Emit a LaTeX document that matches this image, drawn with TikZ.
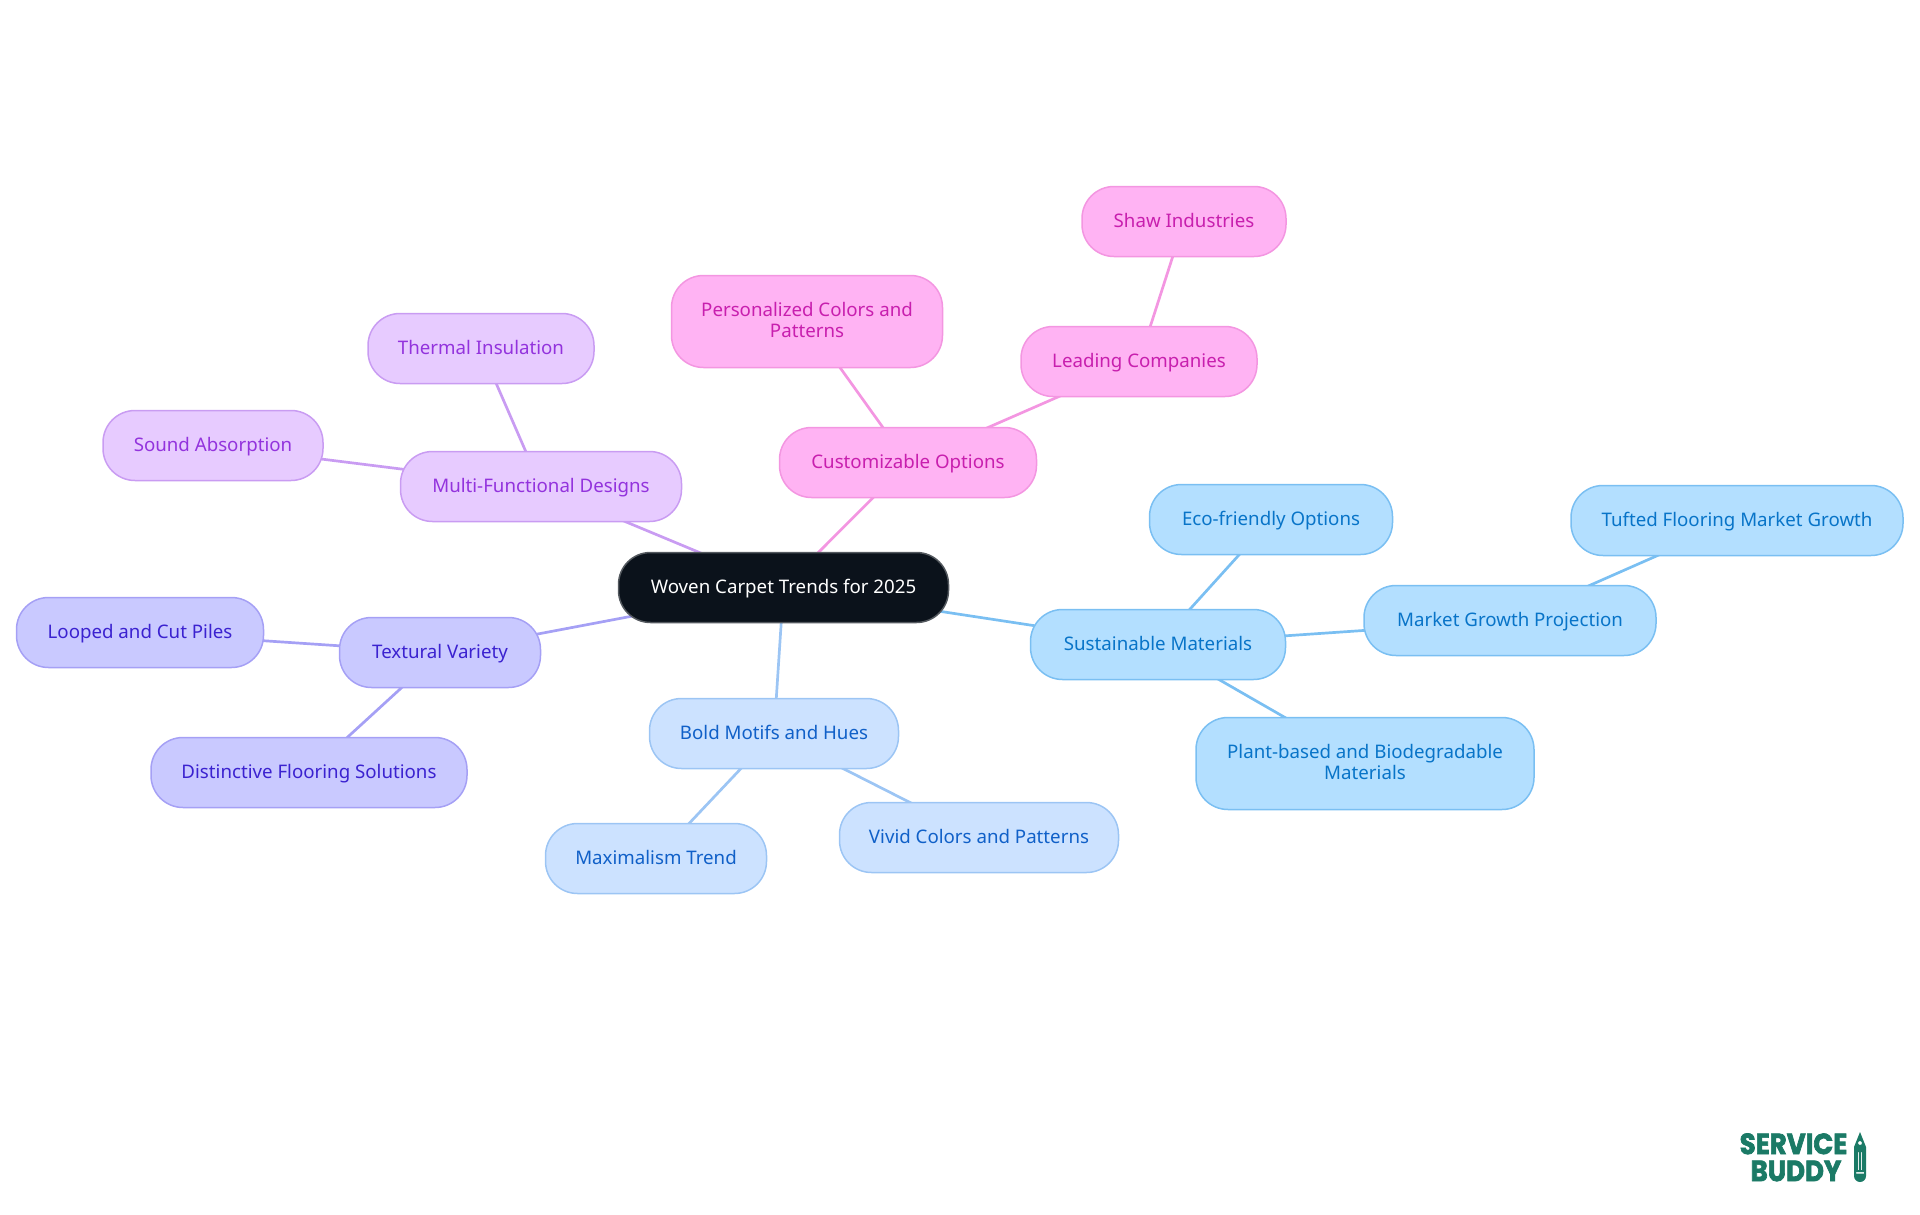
\documentclass[tikz,border=0pt]{standalone}
\usepackage{fontspec}
\setmainfont{Noto Sans}
\newfontfamily\logofont[BoldFeatures={FakeBold=2.5}]{Poppins}
\usetikzlibrary{positioning,backgrounds}

\definecolor{rootfill}{HTML}{0B121B}
\definecolor{pinkfill}{HTML}{FFB3F3}
\definecolor{pinkdraw}{HTML}{F396E1}
\definecolor{pinktext}{HTML}{C81FAE}
\definecolor{violetfill}{HTML}{E7CBFF}
\definecolor{violetdraw}{HTML}{C99CF2}
\definecolor{violettext}{HTML}{9333DD}
\definecolor{indigofill}{HTML}{C9C9FF}
\definecolor{indigodraw}{HTML}{A5A0F5}
\definecolor{indigotext}{HTML}{3B22D0}
\definecolor{bluefill}{HTML}{CCE2FF}
\definecolor{bluedraw}{HTML}{9CC5F4}
\definecolor{bluetext}{HTML}{1060C8}
\definecolor{skyfill}{HTML}{B3DFFF}
\definecolor{skydraw}{HTML}{7ABFF2}
\definecolor{skytext}{HTML}{0874C8}
\definecolor{logogreen}{HTML}{1B7A66}

\begin{document}
\begin{tikzpicture}[x=1pt,y=1pt,on grid,font=\fontsize{18.7}{21}\selectfont]

  \tikzstyle{box}=[rounded corners=32pt,line width=1.5pt,minimum height=70pt,inner sep=0pt,align=center,text height=15pt,text depth=3pt]
  \tikzstyle{twolines}=[minimum height=92pt,text height=36pt,text depth=5pt]
  \tikzstyle{rootbox}=[box,fill=rootfill,draw=rootfill!70!white,text=white]
  \tikzstyle{pinkbox}=[box,fill=pinkfill,draw=pinkdraw,text=pinktext]
  \tikzstyle{violetbox}=[box,fill=violetfill,draw=violetdraw,text=violettext]
  \tikzstyle{indigobox}=[box,fill=indigofill,draw=indigodraw,text=indigotext]
  \tikzstyle{bluebox}=[box,fill=bluefill,draw=bluedraw,text=bluetext]
  \tikzstyle{skybox}=[box,fill=skyfill,draw=skydraw,text=skytext]
  \tikzstyle{link}=[line width=2.7pt]
  \tikzstyle{logotext}=[text=logogreen,inner sep=0pt,yscale=1.12,transform shape,text height=18pt,text depth=0pt,font=\logofont\bfseries\fontsize{26}{26}\selectfont]

  \useasboundingbox (0,0) rectangle (1920,-1215);

  \node[rootbox,minimum width=330pt]    (root) at (783.5,-587.5) {Woven Carpet Trends for 2025};

  \node[pinkbox,minimum width=257pt]    (cust)  [above right=125pt and 124.5pt of root] {Customizable Options};
  \node[pinkbox,twolines,minimum width=271pt] (pers) [above left=141pt and 101pt of cust] {Personalized Colors and\\Patterns};
  \node[pinkbox,minimum width=236pt]    (lead)  [above right=101pt and 231pt of cust] {Leading Companies};
  \node[pinkbox,minimum width=204pt]    (shaw)  [above right=140pt and 45pt of lead] {Shaw Industries};

  \node[violetbox,minimum width=281pt]  (multi) [above left=101pt and 242.5pt of root] {Multi-Functional Designs};
  \node[violetbox,minimum width=226pt]  (therm) [above left=138pt and 60pt of multi] {Thermal Insulation};
  \node[violetbox,minimum width=220pt]  (sound) [above left=41pt and 328pt of multi] {Sound Absorption};

  \node[indigobox,minimum width=201pt]  (textu) [below left=65pt and 343.5pt of root] {Textural Variety};
  \node[indigobox,minimum width=247pt]  (loop)  [above left=20pt and 300pt of textu] {Looped and Cut Piles};
  \node[indigobox,minimum width=316pt]  (dist)  [below left=120pt and 131pt of textu] {Distinctive Flooring Solutions};

  \node[bluebox,minimum width=249pt]    (bold)  [below left=146pt and 9.5pt of root] {Bold Motifs and Hues};
  \node[bluebox,minimum width=221pt]    (maxi)  [below left=125pt and 118pt of bold] {Maximalism Trend};
  \node[bluebox,minimum width=279pt]    (vivid) [below right=104pt and 205pt of bold] {Vivid Colors and Patterns};

  \node[skybox,minimum width=255pt]     (sust)  [below right=57pt and 374.5pt of root] {Sustainable Materials};
  \node[skybox,minimum width=243pt]     (eco)   [above right=125pt and 113pt of sust] {Eco-friendly Options};
  \node[skybox,minimum width=292pt]     (market) [above right=24pt and 352pt of sust] {Market Growth Projection};
  \node[skybox,minimum width=332pt]     (tuft)  [above right=100pt and 227pt of market] {Tufted Flooring Market Growth};
  \node[skybox,twolines,minimum width=338pt] (plant) [below right=119pt and 207pt of sust] {Plant-based and Biodegradable\\Materials};

  \begin{pgfonlayer}{background}
    \path[link,draw=pinkdraw] (root.center) edge (cust.center)
          (cust.center) edge (pers.center)
          (cust.center) edge (lead.center)
          (lead.center) edge (shaw.center);
    \path[link,draw=violetdraw] (root.center) edge (multi.center)
          (multi.center) edge (therm.center)
          (multi.center) edge (sound.center);
    \path[link,draw=indigodraw] (root.center) edge (textu.center)
          (textu.center) edge (loop.center)
          (textu.center) edge (dist.center);
    \path[link,draw=bluedraw] (root.center) edge (bold.center)
          (bold.center) edge (maxi.center)
          (bold.center) edge (vivid.center);
    \path[link,draw=skydraw] (root.center) edge (sust.center)
          (sust.center) edge (eco.center)
          (sust.center) edge (market.center)
          (market.center) edge (tuft.center)
          (sust.center) edge (plant.center);
  \end{pgfonlayer}

  % logo
  \node[logotext] (service) at (1793.5,-1144) {SERVICE};
  \node[logotext] (buddy) at (1796,-1171) {BUDDY};
  \fill[logogreen,even odd rule] (1860,-1132) -- (1866,-1147) -- (1866,-1176) arc (0:-180:6) -- (1854,-1147) -- cycle
        (1858,-1152) rectangle (1859,-1170) (1861,-1152) rectangle (1862,-1170)
        (1856,-1172) rectangle (1864,-1173.5)
        (1860,-1143) circle (2pt);

\end{tikzpicture}
\end{document}
